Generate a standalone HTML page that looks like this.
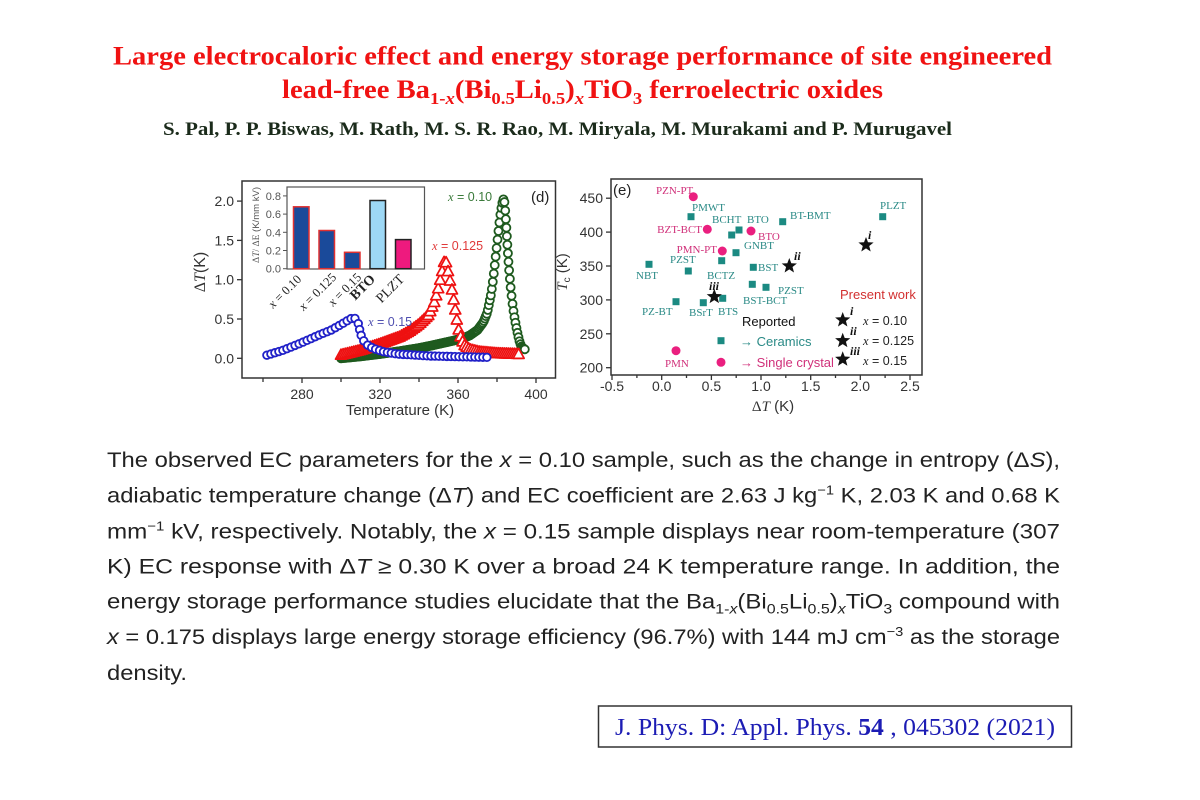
<!DOCTYPE html>
<html><head><meta charset="utf-8"><style>
html,body{margin:0;padding:0;background:#fff;}
svg{display:block;}
.ser{font-family:"Liberation Serif",serif;}
.san{font-family:"Liberation Sans",sans-serif;}
</style></head><body>
<svg width="1200" height="800" viewBox="0 0 1200 800" xmlns="http://www.w3.org/2000/svg" font-family="Liberation Sans, sans-serif">
<defs>
<polygon id="star" points="0,-8 2,-2.75 7.61,-2.47 3.23,1.05 4.7,6.47 0,3.4 -4.7,6.47 -3.23,1.05 -7.61,-2.47 -2,-2.75" fill="#111"/>
</defs>
<rect width="1200" height="800" fill="#fff"/>

<!-- Title -->
<text class="ser" x="113" y="64.5" font-size="26" font-weight="bold" fill="#f01212" textLength="939" lengthAdjust="spacingAndGlyphs">Large electrocaloric effect and energy storage performance of site engineered</text>
<text class="ser" x="282" y="98" font-size="26" font-weight="bold" fill="#f01212" textLength="601" lengthAdjust="spacingAndGlyphs">lead-free Ba<tspan font-size="17" dy="6">1-<tspan font-style="italic">x</tspan></tspan><tspan dy="-6">(Bi</tspan><tspan font-size="17" dy="6">0.5</tspan><tspan dy="-6">Li</tspan><tspan font-size="17" dy="6">0.5</tspan><tspan dy="-6">)</tspan><tspan font-size="17" dy="6" font-style="italic">x</tspan><tspan dy="-6">TiO</tspan><tspan font-size="17" dy="6">3</tspan><tspan dy="-6"> ferroelectric oxides</tspan></text>
<text class="ser" x="163" y="135" font-size="19" font-weight="bold" fill="#1b2b1b" textLength="789" lengthAdjust="spacingAndGlyphs">S. Pal, P. P. Biswas, M. Rath, M. S. R. Rao, M. Miryala, M. Murakami and P. Murugavel</text>

<!-- ===== Left chart (d) ===== -->
<rect x="242" y="181" width="313.5" height="197" fill="none" stroke="#333" stroke-width="1.5"/>
<g stroke="#333" stroke-width="1.3">
<line x1="237" y1="358.3" x2="242" y2="358.3"/><line x1="237" y1="319" x2="242" y2="319"/><line x1="237" y1="279.7" x2="242" y2="279.7"/><line x1="237" y1="240.4" x2="242" y2="240.4"/><line x1="237" y1="201.1" x2="242" y2="201.1"/>
<line x1="263" y1="378" x2="263" y2="382"/><line x1="302" y1="378" x2="302" y2="383"/><line x1="341" y1="378" x2="341" y2="382"/><line x1="380" y1="378" x2="380" y2="383"/><line x1="419" y1="378" x2="419" y2="382"/><line x1="458" y1="378" x2="458" y2="383"/><line x1="497" y1="378" x2="497" y2="382"/><line x1="536" y1="378" x2="536" y2="383"/>
</g>
<g font-size="14" fill="#333" text-anchor="end">
<text x="234" y="363.3">0.0</text><text x="234" y="324">0.5</text><text x="234" y="284.7">1.0</text><text x="234" y="245.4">1.5</text><text x="234" y="206.1">2.0</text>
</g>
<g font-size="14" fill="#333" text-anchor="middle">
<text x="302" y="399">280</text><text x="380" y="399">320</text><text x="458" y="399">360</text><text x="536" y="399">400</text>
</g>
<text x="400" y="415" font-size="15" fill="#333" text-anchor="middle">Temperature (K)</text>
<text transform="rotate(-90 205 272)" x="205" y="272" font-size="16" fill="#333" text-anchor="middle"><tspan class="ser">Δ</tspan><tspan class="ser" font-style="italic">T</tspan>(K)</text>
<text x="531" y="202" font-size="15" fill="#222">(d)</text>

<!-- inset -->
<rect x="287" y="187" width="137.5" height="82" fill="#fff" stroke="#555" stroke-width="1.2"/>
<g stroke="#555" stroke-width="1">
<line x1="283" y1="268.7" x2="287" y2="268.7"/><line x1="283" y1="250.5" x2="287" y2="250.5"/><line x1="283" y1="232.3" x2="287" y2="232.3"/><line x1="283" y1="214.1" x2="287" y2="214.1"/><line x1="283" y1="195.9" x2="287" y2="195.9"/>
</g>
<g font-size="11" fill="#555" text-anchor="end">
<text x="281" y="272.7">0.0</text><text x="281" y="254.5">0.2</text><text x="281" y="236.3">0.4</text><text x="281" y="218.1">0.6</text><text x="281" y="199.9">0.8</text>
</g>
<text transform="rotate(-90 259 225)" x="259" y="225" font-size="9.5" fill="#555" text-anchor="middle" textLength="76" lengthAdjust="spacingAndGlyphs"><tspan class="ser">Δ</tspan><tspan class="ser" font-style="italic">T</tspan><tspan class="ser">/ ΔE</tspan> (K/mm kV)</text>
<g stroke-width="1.5">
<rect x="293.5" y="206.8" width="15.5" height="61.9" fill="#1a4a9a" stroke="#e03030"/>
<rect x="319" y="230.5" width="15.5" height="38.2" fill="#1a4a9a" stroke="#e03030"/>
<rect x="344.5" y="252.3" width="15.5" height="16.4" fill="#1a4a9a" stroke="#e03030"/>
<rect x="370" y="200.5" width="15.5" height="68.2" fill="#9dd8f5" stroke="#222"/>
<rect x="395.5" y="239.6" width="15.5" height="29.1" fill="#ee1a7e" stroke="#222"/>
</g>
<g class="ser" fill="#222" text-anchor="end">
<text transform="rotate(-45 302 280)" x="302" y="280" font-size="12.5"><tspan font-style="italic">x</tspan> = 0.10</text>
<text transform="rotate(-45 337 278)" x="337" y="278" font-size="12.5"><tspan font-style="italic">x</tspan> = 0.125</text>
<text transform="rotate(-45 362 278)" x="362" y="278" font-size="12.5"><tspan font-style="italic">x</tspan> = 0.15</text>
<text transform="rotate(-45 376 280)" x="376" y="280" font-size="14" font-weight="bold">BTO</text>
<text transform="rotate(-45 405 280)" x="405" y="280" font-size="14">PLZT</text>
</g>

<!-- curves -->
<g id="gG"></g>
<g id="gR"></g>
<g id="gB"></g>

<text x="448" y="201" font-size="12.5" fill="#3a7a3a"><tspan class="ser" font-style="italic">x</tspan> = 0.10</text>
<text x="432" y="250" font-size="12.5" fill="#e03a3a"><tspan class="ser" font-style="italic">x</tspan> = 0.125</text>
<text x="368" y="326" font-size="12.5" fill="#5050b0"><tspan class="ser" font-style="italic">x</tspan> = 0.15</text>

<!-- ===== Right chart (e) ===== -->
<rect x="611" y="179" width="311" height="196" fill="none" stroke="#333" stroke-width="1.5"/>
<g stroke="#333" stroke-width="1.3">
<line x1="606" y1="367.7" x2="611" y2="367.7"/><line x1="606" y1="333.8" x2="611" y2="333.8"/><line x1="606" y1="299.9" x2="611" y2="299.9"/><line x1="606" y1="266" x2="611" y2="266"/><line x1="606" y1="232.1" x2="611" y2="232.1"/><line x1="606" y1="198.2" x2="611" y2="198.2"/>
<line x1="612" y1="375" x2="612" y2="380"/><line x1="661.7" y1="375" x2="661.7" y2="380"/><line x1="711.4" y1="375" x2="711.4" y2="380"/><line x1="761" y1="375" x2="761" y2="380"/><line x1="810.7" y1="375" x2="810.7" y2="380"/><line x1="860.3" y1="375" x2="860.3" y2="380"/><line x1="910" y1="375" x2="910" y2="380"/>
<line x1="636.9" y1="375" x2="636.9" y2="378"/><line x1="686.5" y1="375" x2="686.5" y2="378"/><line x1="736.2" y1="375" x2="736.2" y2="378"/><line x1="785.8" y1="375" x2="785.8" y2="378"/><line x1="835.5" y1="375" x2="835.5" y2="378"/><line x1="885.1" y1="375" x2="885.1" y2="378"/>
</g>
<g font-size="14" fill="#333" text-anchor="end">
<text x="603" y="372.7">200</text><text x="603" y="338.8">250</text><text x="603" y="304.9">300</text><text x="603" y="271">350</text><text x="603" y="237.1">400</text><text x="603" y="203.2">450</text>
</g>
<g font-size="14" fill="#333" text-anchor="middle">
<text x="612" y="391">-0.5</text><text x="661.7" y="391">0.0</text><text x="711.4" y="391">0.5</text><text x="761" y="391">1.0</text><text x="810.7" y="391">1.5</text><text x="860.3" y="391">2.0</text><text x="910" y="391">2.5</text>
</g>
<text x="773" y="411" font-size="15" fill="#333" text-anchor="middle"><tspan class="ser">Δ</tspan><tspan class="ser" font-style="italic">T</tspan> (K)</text>
<text transform="rotate(-90 567 272)" x="567" y="272" font-size="15" fill="#333" text-anchor="middle"><tspan class="ser" font-style="italic">T</tspan><tspan font-size="10" dy="3">c</tspan><tspan dy="-3"> (K)</tspan></text>
<text x="613" y="195" font-size="15" fill="#222">(e)</text>

<!-- teal squares -->
<g fill="#1b8a82">
<rect x="687.5" y="213.2" width="7" height="7"/>
<rect x="735.5" y="226.5" width="7" height="7"/>
<rect x="728.2" y="231.5" width="7" height="7"/>
<rect x="779.2" y="218.2" width="7" height="7"/>
<rect x="879.2" y="213.2" width="7" height="7"/>
<rect x="732.5" y="249.2" width="7" height="7"/>
<rect x="718.2" y="257.2" width="7" height="7"/>
<rect x="645.5" y="260.8" width="7" height="7"/>
<rect x="749.8" y="263.8" width="7" height="7"/>
<rect x="684.8" y="267.5" width="7" height="7"/>
<rect x="748.8" y="280.8" width="7" height="7"/>
<rect x="762.5" y="283.8" width="7" height="7"/>
<rect x="719.2" y="294.8" width="7" height="7"/>
<rect x="699.8" y="299.2" width="7" height="7"/>
<rect x="672.5" y="298.2" width="7" height="7"/>
<rect x="717.5" y="337.2" width="7" height="7"/>
</g>
<!-- magenta circles -->
<g fill="#ea1f7f">
<circle cx="693.3" cy="196.7" r="4.5"/>
<circle cx="707.3" cy="229.3" r="4.5"/>
<circle cx="751" cy="231" r="4.5"/>
<circle cx="722.3" cy="251" r="4.5"/>
<circle cx="676" cy="350.7" r="4.5"/>
<circle cx="721" cy="362.3" r="4.5"/>
</g>
<!-- labels -->
<g class="ser" font-size="11" fill="#2a8a86">
<text x="692" y="211">PMWT</text>
<text x="712" y="223">BCHT</text>
<text x="747" y="223">BTO</text>
<text x="790" y="219">BT-BMT</text>
<text x="880" y="209">PLZT</text>
<text x="744" y="249">GNBT</text>
<text x="670" y="263">PZST</text>
<text x="758" y="271">BST</text>
<text x="636" y="279">NBT</text>
<text x="707" y="279">BCTZ</text>
<text x="778" y="294">PZST</text>
<text x="743" y="304">BST-BCT</text>
<text x="642" y="315">PZ-BT</text>
<text x="689" y="316">BSrT</text>
<text x="718" y="315">BTS</text>
</g>
<g class="ser" font-size="11" fill="#d0307a">
<text x="656" y="194">PZN-PT</text>
<text x="702" y="233" text-anchor="end">BZT-BCT</text>
<text x="758" y="240">BTO</text>
<text x="717" y="253" text-anchor="end">PMN-PT</text>
<text x="665" y="367">PMN</text>
</g>
<!-- stars -->
<use href="#star" x="866" y="245"/>
<use href="#star" x="789.3" y="266"/>
<use href="#star" x="714.3" y="296.7"/>
<use href="#star" x="842.7" y="320"/>
<use href="#star" x="842.7" y="340.7"/>
<use href="#star" x="842.7" y="359.3"/>
<g class="ser" font-size="12" font-weight="bold" font-style="italic" fill="#111">
<text x="868" y="239">i</text>
<text x="794" y="260">ii</text>
<text x="709" y="290">iii</text>
<text x="850" y="315">i</text>
<text x="850" y="335">ii</text>
<text x="850" y="355">iii</text>
</g>
<!-- legend -->
<text x="840" y="299" font-size="13" fill="#d23030">Present work</text>
<text x="742" y="326" font-size="13" fill="#111">Reported</text>
<text x="740" y="346" font-size="13" fill="#2a8a86">→ Ceramics</text>
<text x="740" y="367" font-size="13" fill="#d0307a">→ Single crystal</text>
<g font-size="12.5" fill="#222">
<text x="863" y="325"><tspan class="ser" font-style="italic">x</tspan> = 0.10</text>
<text x="863" y="345"><tspan class="ser" font-style="italic">x</tspan> = 0.125</text>
<text x="863" y="365"><tspan class="ser" font-style="italic">x</tspan> = 0.15</text>
</g>

<!-- ===== Paragraph ===== -->
<g font-size="21" fill="#222">
<text x="107" y="467" textLength="953" lengthAdjust="spacingAndGlyphs">The observed EC parameters for the <tspan font-style="italic">x</tspan> = 0.10 sample, such as the change in entropy (Δ<tspan font-style="italic">S</tspan>),</text>
<text x="107" y="502.7" textLength="953" lengthAdjust="spacingAndGlyphs">adiabatic temperature change (Δ<tspan font-style="italic">T</tspan>) and EC coefficient are 2.63 J kg<tspan font-size="13" dy="-8">−1</tspan><tspan dy="8"> K, 2.03 K and 0.68 K</tspan></text>
<text x="107" y="538.3" textLength="953" lengthAdjust="spacingAndGlyphs">mm<tspan font-size="13" dy="-8">−1</tspan><tspan dy="8"> kV, respectively. Notably, the </tspan><tspan font-style="italic">x</tspan> = 0.15 sample displays near room-temperature (307</text>
<text x="107" y="573.3" textLength="953" lengthAdjust="spacingAndGlyphs">K) EC response with Δ<tspan font-style="italic">T</tspan> ≥ 0.30 K over a broad 24 K temperature range. In addition, the</text>
<text x="107" y="608.3" textLength="953" lengthAdjust="spacingAndGlyphs">energy storage performance studies elucidate that the Ba<tspan font-size="14" dy="5">1-<tspan font-style="italic">x</tspan></tspan><tspan dy="-5">(Bi</tspan><tspan font-size="14" dy="5">0.5</tspan><tspan dy="-5">Li</tspan><tspan font-size="14" dy="5">0.5</tspan><tspan dy="-5">)</tspan><tspan font-size="14" dy="5" font-style="italic">x</tspan><tspan dy="-5">TiO</tspan><tspan font-size="14" dy="5">3</tspan><tspan dy="-5"> compound with</tspan></text>
<text x="107" y="644" textLength="953" lengthAdjust="spacingAndGlyphs"><tspan font-style="italic">x</tspan> = 0.175 displays large energy storage efficiency (96.7%) with 144 mJ cm<tspan font-size="13" dy="-8">−3</tspan><tspan dy="8"> as the storage</tspan></text>
<text x="107" y="680" textLength="80" lengthAdjust="spacingAndGlyphs">density.</text>
</g>

<!-- citation -->
<rect x="598.5" y="706" width="473" height="41" fill="none" stroke="#333" stroke-width="1.5"/>
<text class="ser" x="615" y="735" font-size="24" fill="#1c1cb4" textLength="440" lengthAdjust="spacingAndGlyphs">J. Phys. D: Appl. Phys. <tspan font-weight="bold">54</tspan> , 045302 (2021)</text>
</svg>
<script>
(function(){
var X=function(t){return 302+(t-280)*1.95;}, Y=function(v){return 358.3-v*78.6;};
function samp(keys, st, md){
  var p=keys.map(function(k){return [X(k[0]),Y(k[1]),k[0]];});
  var out=[[p[0][0],p[0][1]]], lt=p[0][2], lx=p[0][0], ly=p[0][1];
  for(var i=1;i<p.length;i++){
    var a=p[i-1], b=p[i];
    var L=Math.hypot(b[0]-a[0],b[1]-a[1]); var n=Math.max(1,Math.ceil(L/0.2));
    for(var k=1;k<=n;k++){
      var f=k/n, x=a[0]+(b[0]-a[0])*f, y=a[1]+(b[1]-a[1])*f, t=a[2]+(b[2]-a[2])*f;
      if(t-lt>=st-1e-9||Math.hypot(x-lx,y-ly)>=md){out.push([x,y]);lt=t;lx=x;ly=y;}
    }
  }
  return out;
}
var green=[[300,0.0],[310,0.025],[320,0.055],[330,0.09],[340,0.13],[346,0.16],[355,0.21],[362,0.25],[366,0.29],[370,0.36],[373,0.46],[375,0.58],[377,0.82],[378,1.0],[379,1.22],[380,1.45],[381,1.68],[382,1.88],[383,2.01],[383.5,2.03],[384,1.96],[384.6,1.75],[385.3,1.45],[386,1.18],[387,0.9],[387.7,0.74],[388.7,0.56],[389.7,0.42],[390.7,0.3],[391.7,0.2],[392.7,0.14],[394.5,0.11]];
var red=[[300,0.04],[310,0.1],[320,0.18],[330,0.27],[335,0.34],[340,0.43],[345,0.55],[348,0.72],[350,0.9],[352,1.12],[353.3,1.27],[354.3,1.18],[355.4,1.04],[357,0.86],[358.5,0.63],[360,0.39],[361.5,0.26],[363,0.17],[366,0.11],[371,0.08],[380,0.06],[391.5,0.05]];
var blue=[[262,0.04],[270,0.10],[280,0.20],[290,0.31],[295,0.36],[300,0.43],[304,0.49],[306.3,0.52],[308.3,0.49],[309.2,0.41],[310,0.31],[311.7,0.22],[313.5,0.17],[316.6,0.125],[321.7,0.085],[328.6,0.055],[345,0.03],[375,0.012]];
var s='';
samp(green,0.5,8.5).forEach(function(q){s+='<circle cx="'+q[0].toFixed(2)+'" cy="'+q[1].toFixed(2)+'" r="4" fill="#fff" stroke="#1e5a1e" stroke-width="1.8"/>';});
document.getElementById('gG').innerHTML=s;
s='';
samp(red,1,10).forEach(function(q){var x=q[0],y=q[1];s+='<polygon points="'+x.toFixed(2)+','+(y-6).toFixed(2)+' '+(x-5.5).toFixed(2)+','+(y+4).toFixed(2)+' '+(x+5.5).toFixed(2)+','+(y+4).toFixed(2)+'" fill="#fff" stroke="#ee1111" stroke-width="1.7" stroke-linejoin="round"/>';});
document.getElementById('gR').innerHTML=s;
s='';
samp(blue,2,6).forEach(function(q){s+='<circle cx="'+q[0].toFixed(2)+'" cy="'+q[1].toFixed(2)+'" r="3.8" fill="#fff" stroke="#2020c8" stroke-width="1.8"/>';});
document.getElementById('gB').innerHTML=s;
})();
</script>
</body></html>
